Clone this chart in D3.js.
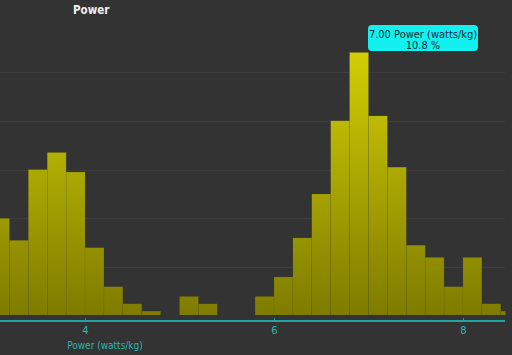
<!DOCTYPE html>
<html><head><meta charset="utf-8">
<script src="https://cdn.jsdelivr.net/npm/d3@7"></script>
<style>html,body{margin:0;padding:0;background:#333333;}svg{display:block;}</style>
</head><body>
<script>
const binEnds = [3.2,3.4,3.6,3.8,4.0,4.2,4.4,4.6,4.8,5.0,5.2,5.4,5.6,5.8,6.0,6.2,6.4,6.6,6.8,7.0,7.2,7.4,7.6,7.8,8.0,8.2,8.4,8.6];
const percents = [4.0,3.1,6.0,6.7,5.9,2.8,1.2,0.5,0.2,0,0.8,0.5,0,0,0.8,1.6,3.2,5.0,8.0,10.8,8.2,6.1,2.9,2.4,1.2,2.4,0.5,0.2];
const binWidth = 0.2;
const xTicks = [4,6,8];
const yGrid = [2,4,6,8,10];
const title = "Power";
const xLabel = "Power (watts/kg)";
const tipBin = 7.0;

const W=512,H=355;
const svg=d3.select("body").append("svg").attr("width",W).attr("height",H);
svg.append("rect").attr("width",W).attr("height",H).attr("fill","#333333");
const x=d3.scaleLinear().domain([3.1,8.45]).range([0,505.5]);
const y=d3.scaleLinear().domain([0,10]).range([316,72]);

const defs=svg.append("defs");
const clip=defs.append("clipPath").attr("id","c");
clip.append("rect").attr("x",0).attr("y",0).attr("width",505.5).attr("height",H);
const g=defs.append("linearGradient").attr("id","gr").attr("gradientUnits","userSpaceOnUse")
 .attr("x1",0).attr("x2",0).attr("y1",50).attr("y2",316);
g.append("stop").attr("offset","0").attr("stop-color","#d3cf05");
g.append("stop").attr("offset","1").attr("stop-color","#7e7b00");

svg.append("g").selectAll("line").data(yGrid).join("line")
 .attr("x1",0).attr("x2",505).attr("y1",d=>Math.round(y(d))+0.5).attr("y2",d=>Math.round(y(d))+0.5)
 .attr("stroke","#3d3d3d").attr("stroke-width",1);

svg.append("g").attr("clip-path","url(#c)").selectAll("rect").data(binEnds.map((b,i)=>({b,v:percents[i]})).filter(d=>d.v>0)).join("rect")
 .attr("x",d=>x(d.b-binWidth)).attr("width",d=>x(d.b)-x(d.b-binWidth))
 .attr("y",d=>y(d.v)).attr("height",d=>y(0)-y(d.v)-1)
 .attr("fill","url(#gr)").attr("stroke","rgba(60,60,0,0.12)").attr("stroke-width",0.5);

const axis=d3.axisBottom(x).tickValues(xTicks).tickSize(3).tickPadding(3).tickFormat(d3.format("d"));
const ax=svg.append("g").attr("transform","translate(0,321)").call(axis);
ax.select(".domain").attr("stroke","#20a6a2").attr("stroke-width",2).attr("d","M0,0H505");
ax.selectAll(".tick line").attr("stroke","#20a6a2").attr("y1",-3).attr("y2",0);
ax.selectAll(".tick text").attr("fill","#2ab8b0").attr("font-family","DejaVu Sans, sans-serif").attr("font-size",10);

svg.append("text").attr("x",105).attr("y",349).attr("text-anchor","middle")
 .attr("fill","#2ab8b0").attr("font-family","DejaVu Sans Condensed, DejaVu Sans, sans-serif").attr("font-size",10).text(xLabel);

svg.append("text").attr("x",73).attr("y",14).attr("fill","#f0f0f0")
 .attr("font-family","DejaVu Sans Condensed, DejaVu Sans, sans-serif").attr("font-size",11.5).attr("font-weight","bold").text(title);

const ti=binEnds.indexOf(tipBin);
const tg=svg.append("g");
const tcx=423;
tg.append("rect").attr("x",tcx-55).attr("y",25).attr("width",110).attr("height",26).attr("rx",4)
 .attr("fill","#12f0f0");
tg.append("text").attr("x",tcx).attr("y",37.5).attr("text-anchor","middle").attr("fill","#102838")
 .attr("font-family","DejaVu Sans, sans-serif").attr("font-size",9.9).text(tipBin.toFixed(2)+" "+xLabel);
tg.append("text").attr("x",tcx).attr("y",48.5).attr("text-anchor","middle").attr("fill","#102838")
 .attr("font-family","DejaVu Sans, sans-serif").attr("font-size",9.9).text(percents[ti].toFixed(1)+" %");
</script>
</body></html>
